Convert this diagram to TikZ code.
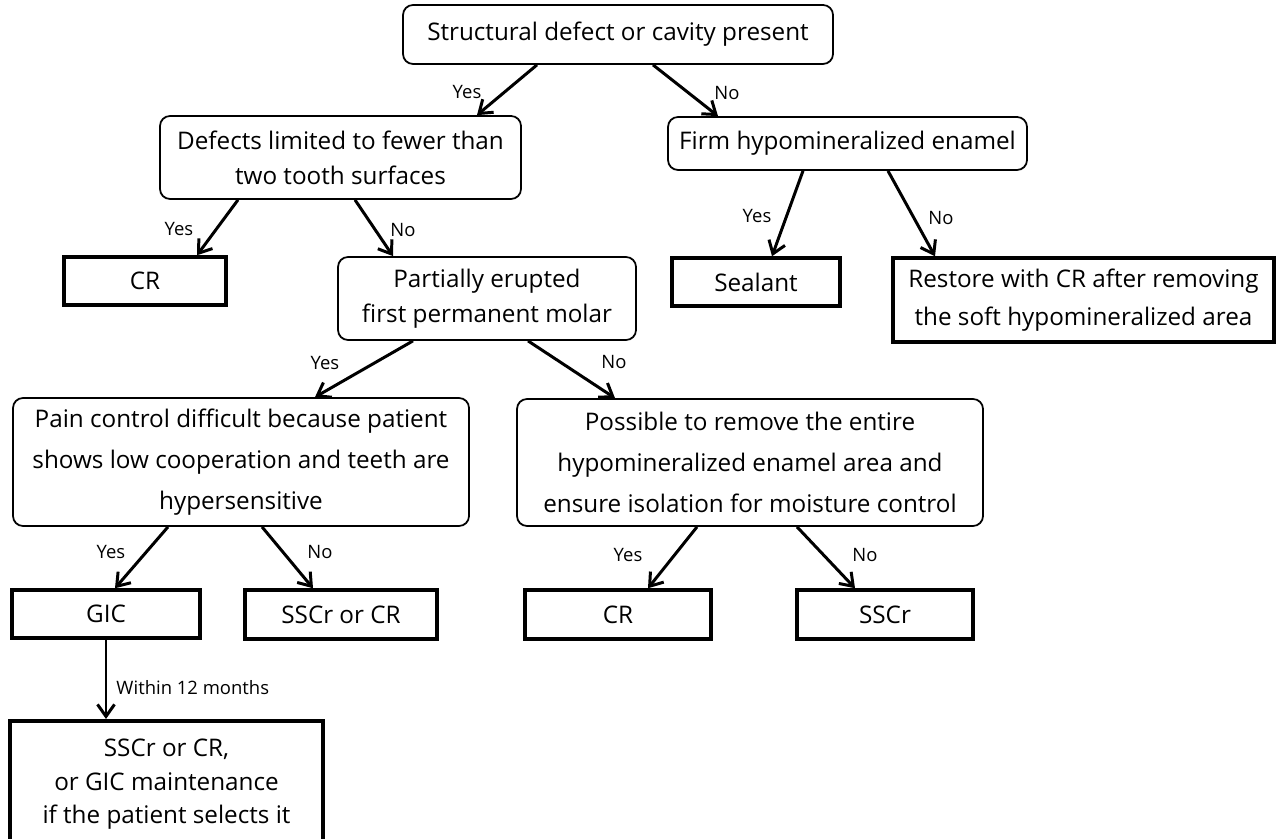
\documentclass[tikz,border=0pt]{standalone}
\usepackage{fontspec}
\setmainfont{Open Sans}
\usetikzlibrary{arrows.meta}

\tikzset{
  rbox/.style = {draw, rounded corners=0.2cm, line width=1pt, align=center,
                 font=\fontsize{13.8}{20}\selectfont, inner sep=2pt},
  sbox/.style = {draw, line width=2pt, align=center,
                 font=\fontsize{13.8}{21.5}\selectfont, inner sep=2pt},
  lbl/.style  = {font=\fontsize{10.5}{12}\selectfont, inner sep=0pt}
}

\begin{document}
\begin{tikzpicture} [-> , >= {Straight Barb[length=2.4mm, width=3.4mm]}, line width = 1.7pt]
        \useasboundingbox (0,0) rectangle (25.54,-16.78);

        \node [rbox, minimum width=8.6cm, minimum height=1.18cm] (defect) at (12.36,-0.69) {Structural defect or cavity present};

        \node [rbox, minimum width=7.22cm, minimum height=1.66cm] (fewer) at (6.81,-3.15) {Defects limited to fewer than\\two tooth surfaces};
        \node [rbox, minimum width=7.18cm, minimum height=1.06cm] (firm) at (16.95,-2.87) {Firm hypomineralized enamel};

        \path ([xshift=-1.62cm]defect.south) edge ([xshift=2.73cm]fewer.north);
        \path ([xshift=0.70cm]defect.south) edge ([xshift=-2.59cm]firm.north);
        \node [lbl] (y1) at (9.34,-1.84) {Yes};
        \node [lbl] (n1) at (14.54,-1.86) {No};

        \node [sbox, minimum width=3.24cm, minimum height=0.96cm] (cr1) at (2.9,-5.62) {CR};
        \node [rbox, minimum width=5.96cm, minimum height=1.66cm] (erupt) at (9.74,-5.97) {Partially erupted\\first permanent molar};
        \node [sbox, minimum width=3.36cm, minimum height=0.96cm] (seal) at (15.12,-5.64) {Sealant};
        \node [sbox, minimum width=7.62cm, minimum height=1.68cm] (restore) at (21.67,-6.0) {Restore with CR after removing\\the soft hypomineralized area};

        \path ([xshift=-2.05cm]fewer.south) edge ([xshift=1.04cm]cr1.north);
        \path ([xshift=0.29cm]fewer.south) edge ([xshift=-1.88cm]erupt.north);
        \path ([xshift=-0.89cm]firm.south) edge ([xshift=0.32cm]seal.north);
        \path ([xshift=0.81cm]firm.south) edge ([xshift=-2.97cm]restore.north);
        \node [lbl] (y2) at (3.58,-4.58) {Yes};
        \node [lbl] (n2) at (8.06,-4.60) {No};
        \node [lbl] (y3) at (15.14,-4.32) {Yes};
        \node [lbl] (n3) at (18.82,-4.36) {No};

        \node [rbox, minimum width=9.12cm, minimum height=2.56cm, font=\fontsize{13.8}{23.5}\selectfont] (pain) at (4.82,-9.24) {Pain control difficult because patient\\shows low cooperation and teeth are\\hypersensitive};
        \node [rbox, minimum width=9.32cm, minimum height=2.54cm, font=\fontsize{13.8}{23.5}\selectfont] (remove) at (15.0,-9.25) {Possible to remove the entire\\hypomineralized enamel area and\\ensure isolation for moisture control};

        \path ([xshift=-1.48cm]erupt.south) edge ([xshift=1.48cm]pain.north);
        \path ([xshift=0.82cm]erupt.south) edge ([xshift=-2.7cm]remove.north);
        \node [lbl] (y4) at (6.5,-7.26) {Yes};
        \node [lbl] (n4) at (12.28,-7.24) {No};

        \node [sbox, minimum width=3.76cm, minimum height=0.96cm] (gic) at (2.12,-12.28) {GIC};
        \node [sbox, minimum width=3.84cm, minimum height=0.98cm] (sscrcr) at (6.82,-12.29) {SSCr or CR};
        \node [sbox, minimum width=3.72cm, minimum height=0.98cm] (cr2) at (12.36,-12.29) {CR};
        \node [sbox, minimum width=3.52cm, minimum height=0.98cm] (sscr) at (17.7,-12.29) {SSCr};

        \path ([xshift=-1.46cm]pain.south) edge ([xshift=0.18cm]gic.north);
        \path ([xshift=0.42cm]pain.south) edge ([xshift=-0.56cm]sscrcr.north);
        \path ([xshift=-1.06cm]remove.south) edge ([xshift=0.6cm]cr2.north);
        \path ([xshift=0.94cm]remove.south) edge ([xshift=-0.6cm]sscr.north);
        \node [lbl] (y5) at (2.22,-11.04) {Yes};
        \node [lbl] (n5) at (6.40,-11.04) {No};
        \node [lbl] (y6) at (12.56,-11.10) {Yes};
        \node [lbl] (n6) at (17.30,-11.10) {No};

        \node [sbox, minimum width=6.26cm, anchor=north, inner ysep=10.5pt, font=\fontsize{13.8}{19}\selectfont] (final) at (3.33,-14.38) {SSCr or CR,\\or GIC maintenance\\if the patient selects it\rule[-0.9cm]{0pt}{0pt}};
        \path (gic.south) edge (gic.south |- final.north);
        \node [lbl, anchor=west] (months) at (2.3,-13.76) {Within 12 months};

    \end{tikzpicture}
\end{document}
